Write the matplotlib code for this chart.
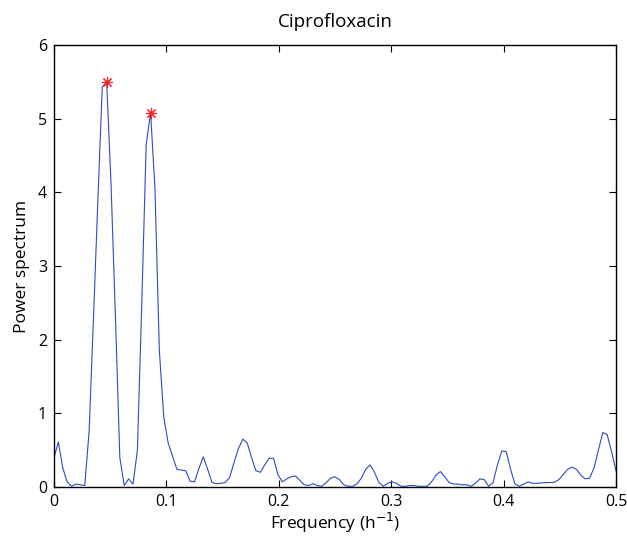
import numpy as np
import matplotlib
matplotlib.use("Agg")
import matplotlib.pyplot as plt

# ── data (power spectrum, df = 1/256 h^-1) ───────────────────────────────────
power = [
    0.40, 0.61, 0.26, 0.07, 0.01, 0.04, 0.03, 0.02, 0.75, 2.30,
    3.90, 5.43, 5.50, 4.10, 2.30, 0.40, 0.02, 0.11, 0.04, 0.50,
    2.50, 4.65, 5.08, 4.05, 1.85, 0.95, 0.60, 0.42, 0.24, 0.23,
    0.22, 0.08, 0.07, 0.25, 0.41, 0.24, 0.06, 0.045, 0.05, 0.06,
    0.13, 0.33, 0.52, 0.65, 0.60, 0.40, 0.22, 0.20, 0.30, 0.39,
    0.39, 0.17, 0.07, 0.11, 0.14, 0.15, 0.09, 0.03, 0.02, 0.045,
    0.02, 0.01, 0.06, 0.12, 0.14, 0.10, 0.03, 0.01, 0.01, 0.04,
    0.12, 0.24, 0.30, 0.20, 0.06, 0.01, 0.05, 0.07, 0.05, 0.01,
    0.01, 0.02, 0.02, 0.01, 0.01, 0.01, 0.07, 0.16, 0.21, 0.14,
    0.06, 0.04, 0.04, 0.03, 0.03, 0.01, 0.05, 0.11, 0.10, 0.01,
    0.06, 0.30, 0.49, 0.48, 0.24, 0.04, 0.01, 0.04, 0.07, 0.05,
    0.05, 0.055, 0.06, 0.06, 0.065, 0.10, 0.17, 0.24, 0.27, 0.24,
    0.16, 0.11, 0.12, 0.26, 0.50, 0.74, 0.71, 0.48, 0.22,
]
freq = np.arange(len(power)) / 256.0
peak_idx = [12, 22]

x_ticks = [0, 0.1, 0.2, 0.3, 0.4, 0.5]
x_labels = ["0", "0.1", "0.2", "0.3", "0.4", "0.5"]
y_ticks = [0, 1, 2, 3, 4, 5, 6]

plt.rcParams["font.family"] = ["Open Sans", "DejaVu Sans"]

fig = plt.figure(figsize=(6.27, 5.38), dpi=100)
ax = fig.add_axes([0.0861, 0.0948, 0.8963, 0.8216])

power = np.array(power)
ax.plot(freq, power, color=(0.17, 0.3, 0.75), linewidth=0.8)
# MATLAB-style asterisk markers on the two main peaks
ax.plot(freq[peak_idx], power[peak_idx], marker=(8, 2, 0), color="#ff2020",
        markersize=8, markeredgewidth=0.8, linestyle="none")

ax.set_xlim(0, 0.5)
ax.set_ylim(0, 6)
ax.set_xticks(x_ticks)
ax.set_xticklabels(x_labels)
ax.set_yticks(y_ticks)
ax.tick_params(direction="in", top=True, right=True, length=5,
               width=0.8, labelsize=11.5, pad=5)
for s in ax.spines.values():
    s.set_linewidth(1.0)

ax.set_title("Ciprofloxacin", fontsize=13.5, pad=13)
ax.set_xlabel("Frequency (h$^{-1}$)", fontsize=12.5, labelpad=1)
ax.set_ylabel("Power spectrum", fontsize=12.5, labelpad=6)

plt.savefig("out.png", dpi=100)
plt.close()
